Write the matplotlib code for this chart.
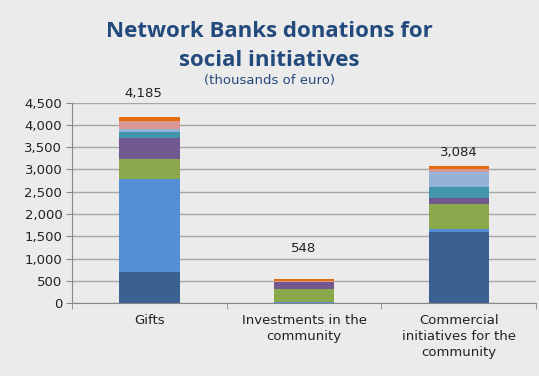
import matplotlib
matplotlib.use("Agg")
import matplotlib.pyplot as plt
import numpy as np

categories = ["Gifts", "Investments in the\ncommunity", "Commercial\ninitiatives for the\ncommunity"]
totals = [4185, 548, 3084]
s1 = [700, 0, 1595]
s2 = [2080, 25, 60]
s3 = [445, 282, 563]
s4 = [470, 157, 133]
s5 = [150, 0, 260]
s6 = [55, 20, 336]
s7 = [190, 10, 68]
s8 = [95, 54, 69]
series = [s1, s2, s3, s4, s5, s6, s7, s8]
colors = ["#3A6190", "#558ED5", "#8BA84C", "#71588F", "#4196AE", "#95B3D7", "#D99694", "#E46C0A"]
yticks = [0, 500, 1000, 1500, 2000, 2500, 3000, 3500, 4000, 4500]
# label offsets (points) as placed in the original
label_dx = [-4.5, 0, 0]
label_dy = [12, 17, 4.5]

bg = "#EBEBEB"
fig = plt.figure(figsize=(5.39, 3.76), dpi=100, facecolor=bg)
ax = fig.add_axes([0.1336, 0.194, 0.861, 0.533], facecolor=bg)

x = np.arange(len(categories))
bottom = np.zeros(len(categories))
for vals, c in zip(series, colors):
    v = np.array(vals, dtype=float)
    ax.bar(x, v, 0.39, bottom=bottom, color=c, zorder=3, linewidth=0)
    bottom += v

for xi, t, dx, dy in zip(x, totals, label_dx, label_dy):
    ax.annotate(f"{t:,}", (xi, bottom[xi]), xytext=(dx, dy), textcoords="offset points",
                ha="center", va="bottom", fontsize=9.5, color="#222222")

ax.set_xlim(-0.5, 2.5)
ax.set_ylim(0, 4500)
ax.set_yticks(yticks)
ax.set_yticklabels([f"{v:,}" for v in yticks], fontsize=9.5, color="#222222")
ax.yaxis.grid(True, color="#A6A6A6", linewidth=1, zorder=0)
ax.set_xticks(x)
ax.set_xticklabels(categories, fontsize=9.5, color="#222222", linespacing=1.3)
ax.set_xticks([-0.5, 0.5, 1.5, 2.5], minor=True)
ax.tick_params(axis="x", which="major", length=0, pad=8)
ax.tick_params(axis="x", which="minor", length=4, color="#888888")
ax.tick_params(axis="y", length=4, color="#888888", pad=3)
for s in ["top", "right"]:
    ax.spines[s].set_visible(False)
for s in ["left", "bottom"]:
    ax.spines[s].set_color("#888888")

title_color = "#234A7C"
fig.text(0.5, 0.917, "Network Banks donations for", ha="center", va="center",
         fontsize=16, fontweight="bold", color=title_color, family="Open Sans")
fig.text(0.5, 0.84, "social initiatives", ha="center", va="center",
         fontsize=16, fontweight="bold", color=title_color, family="Open Sans")
fig.text(0.5, 0.785, "(thousands of euro)", ha="center", va="center",
         fontsize=9.5, color=title_color)

fig.savefig("out.png", dpi=100, facecolor=bg)
